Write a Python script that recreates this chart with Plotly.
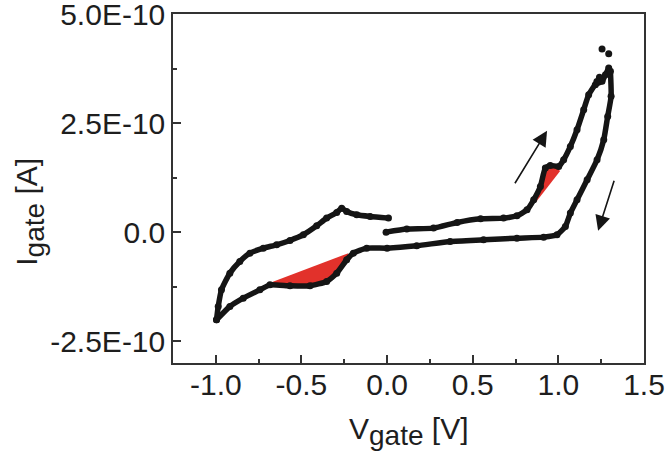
import plotly.graph_objects as go

# Scan data (V in volts, I in units of 1e-10 A)
fwd_v = [-0.006, 0.115, 0.271, 0.409, 0.546, 0.680, 0.758, 0.817, 0.856, 0.895, 0.924, 0.953, 1.002, 1.031, 1.070, 1.109, 1.148, 1.177, 1.216, 1.255, 1.275, 1.294]
fwd_i = [0.0, 0.069, 0.092, 0.222, 0.306, 0.321, 0.375, 0.512, 0.742, 1.047, 1.468, 1.529, 1.506, 1.659, 1.965, 2.347, 2.806, 3.150, 3.379, 3.456, 3.609, 3.761]

rev_v = [1.304, 1.308, 1.288, 1.265, 1.226, 1.168, 1.109, 1.070, 1.041, 0.992, 0.914, 0.758, 0.563, 0.368, 0.173, 0.0, -0.119, -0.197, -0.236, -0.294, -0.353, -0.450, -0.567, -0.684, -0.743, -0.840, -0.918, -0.996]
rev_i = [3.685, 3.112, 2.653, 2.118, 1.659, 1.200, 0.742, 0.436, 0.130, -0.061, -0.115, -0.138, -0.176, -0.214, -0.313, -0.367, -0.367, -0.482, -0.635, -0.940, -1.131, -1.231, -1.231, -1.208, -1.323, -1.514, -1.705, -2.011]

back_v = [-0.996, -0.986, -0.967, -0.918, -0.860, -0.801, -0.723, -0.645, -0.567, -0.489, -0.411, -0.353, -0.294, -0.265, -0.236, -0.177, -0.099, 0.008]
back_i = [-2.011, -1.705, -1.323, -0.940, -0.673, -0.482, -0.367, -0.291, -0.191, -0.061, 0.145, 0.321, 0.451, 0.550, 0.474, 0.398, 0.359, 0.321]

outlier_v = [1.255, 1.294, 1.240, 1.225]
outlier_i = [4.197, 4.090, 3.55, 3.45]

# Shaded regions (chord + curve)
red1_v = [-0.713, -0.226, -0.236, -0.294, -0.353, -0.450, -0.567, -0.684, -0.713]
red1_i = [-1.208, -0.482, -0.635, -0.940, -1.131, -1.231, -1.231, -1.208, -1.208]
red2_v = [0.865, 0.895, 0.924, 0.953, 1.002, 1.008, 0.865]
red2_i = [0.665, 1.047, 1.468, 1.529, 1.506, 1.391, 0.665]

SCALE = 1e-10
x_ticks = [-1.0, -0.5, 0.0, 0.5, 1.0, 1.5]
x_ticktext = ["-1.0", "-0.5", "0.0", "0.5", "1.0", "1.5"]
y_ticks = [-2.5e-10, 0.0, 2.5e-10, 5.0e-10]
y_ticktext = ["-2.5E-10", "0.0", "2.5E-10", "5.0E-10"]

def sc(vals):
    return [v * SCALE for v in vals]

fig = go.Figure()
red = "#e2312b"
for rv, ri in [(red1_v, red1_i), (red2_v, red2_i)]:
    fig.add_trace(go.Scatter(x=rv, y=sc(ri), fill="toself", fillcolor=red,
                             mode="lines", line=dict(width=0, color=red),
                             hoverinfo="skip", showlegend=False))

black = "#151515"
for vv, ii in [(fwd_v, fwd_i), (rev_v, rev_i), (back_v, back_i)]:
    fig.add_trace(go.Scatter(x=vv, y=sc(ii), mode="lines+markers",
                             line=dict(color=black, width=5.5, shape="spline", smoothing=0.5),
                             marker=dict(color=black, size=7),
                             showlegend=False))
fig.add_trace(go.Scatter(x=outlier_v, y=sc(outlier_i), mode="markers",
                         marker=dict(color=black, size=7), showlegend=False))

# direction arrows
arrows = [(0.729, 1.009, 0.934, 2.324), (1.343, 1.391, 1.232, 0.031)]
for x0, y0, x1, y1 in arrows:
    fig.add_annotation(x=x1, y=y1 * SCALE, ax=x0, ay=y0 * SCALE,
                       xref="x", yref="y", axref="x", ayref="y",
                       showarrow=True, arrowhead=2, arrowsize=1.9,
                       arrowwidth=1.6, arrowcolor="#151515", text=" ")

font = "Liberation Sans, Arial, sans-serif"
axis_common = dict(showline=True, linecolor="#333", linewidth=1.5, mirror=True,
                   ticks="inside", ticklen=8, tickwidth=1.5, tickcolor="#333",
                   showgrid=False, zeroline=False, automargin=False,
                   ticklabeloverflow="allow",
                   tickfont=dict(family=font, size=30, color="#1e1e1e"))

sub = "<sub><span style='font-size:28px'>gate</span></sub>"
fig.update_xaxes(range=[-1.25, 1.5], tickvals=x_ticks, ticktext=x_ticktext,
                 minor=dict(ticks="inside", ticklen=4, tickwidth=1.5, tickcolor="#333", dtick=0.25, tick0=0),
                 ticklabelstandoff=-6,
                 **axis_common)
fig.update_yaxes(range=[-3e-10, 5e-10], tickvals=y_ticks, ticktext=y_ticktext,
                 minor=dict(ticks="inside", ticklen=4, tickwidth=1.5, tickcolor="#333", dtick=1.25e-10, tick0=0),
                 ticklabelstandoff=0,
                 **axis_common)

# axis titles placed as text annotations
fig.add_annotation(text="V" + sub + " [V]", showarrow=False,
                   xref="paper", yref="paper", x=(409 - 173) / 471, y=(363 - 431) / 348.5,
                   xanchor="center", yanchor="middle",
                   font=dict(family=font, size=30, color="#1e1e1e"))
fig.add_annotation(text="I" + sub + " [A]", textangle=-90, showarrow=False,
                   xref="paper", yref="paper", x=(30 - 173) / 471, y=(363 - 212) / 348.5,
                   xanchor="center", yanchor="middle",
                   font=dict(family=font, size=30, color="#1e1e1e"))

fig.update_layout(width=665, height=454, margin=dict(l=173, r=21, t=14, b=91),
                  plot_bgcolor="white", paper_bgcolor="white", showlegend=False)

fig.write_html("out.html", config={"displayModeBar": False},
               post_script="document.body.style.margin='0px';document.body.style.overflow='hidden';")
